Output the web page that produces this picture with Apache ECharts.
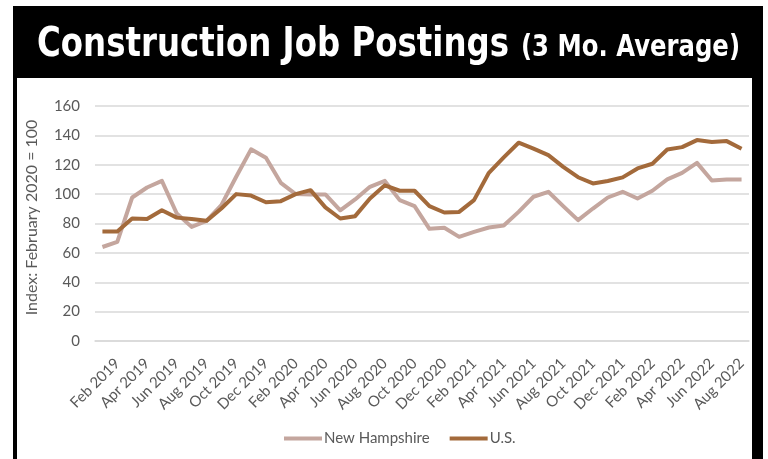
<!DOCTYPE html>
<html lang="en">
<head>
    <meta charset="UTF-8">
    <title>Construction Job Postings</title>
    <script src="https://cdn.jsdelivr.net/npm/echarts@6/dist/echarts.min.js"></script>
</head>
<style>
html,body{margin: 0;padding: 0;background-color: #fff}
#chartBox{width: 768px;height: 459px}
</style>
<body>
    <div id="chartBox"></div>
</body>
<script>
// 月份 (Jan 2019 - Aug 2022)
const months = [
    'Jan 2019','Feb 2019','Mar 2019','Apr 2019','May 2019','Jun 2019','Jul 2019','Aug 2019','Sep 2019','Oct 2019','Nov 2019','Dec 2019',
    'Jan 2020','Feb 2020','Mar 2020','Apr 2020','May 2020','Jun 2020','Jul 2020','Aug 2020','Sep 2020','Oct 2020','Nov 2020','Dec 2020',
    'Jan 2021','Feb 2021','Mar 2021','Apr 2021','May 2021','Jun 2021','Jul 2021','Aug 2021','Sep 2021','Oct 2021','Nov 2021','Dec 2021',
    'Jan 2022','Feb 2022','Mar 2022','Apr 2022','May 2022','Jun 2022','Jul 2022','Aug 2022'
];
const newHampshire = [
    64, 67.5, 97.7, 104.5, 109, 86.8, 77.7, 81.8, 92.5, 111.8, 130.5, 124.8,
    107.7, 100, 99.8, 99.8, 89, 96.4, 105, 109, 95.9, 91.8, 76.4, 77.1,
    70.9, 74.3, 77.3, 78.6, 87.9, 98.2, 101.6, 91.8, 82.3, 90.2, 97.7, 101.6,
    97, 102.3, 110, 114.5, 121.3, 109.3, 110, 110
];
const us = [
    74.5, 74.5, 83.4, 83, 89, 84, 83, 81.8, 90.2, 100, 99, 94.5,
    95.2, 100, 102.7, 91, 83.4, 85, 97, 106, 102.3, 102.3, 91.8, 87.5,
    87.9, 95.9, 114.5, 125, 135, 131, 126.6, 118.6, 111.5, 107.3, 108.9, 111.4,
    117.5, 120.7, 130.4, 132, 136.8, 135.5, 136.1, 130.9
];
const yTicks = [0, 20, 40, 60, 80, 100, 120, 140, 160];
const titleMain = 'Construction Job Postings';
const titleSub = '(3 Mo. Average)';

const textFont = 'Lato, "Open Sans", sans-serif';
const titleFont = '"DejaVu Sans", sans-serif';
const grayText = '#595959';

// 标题字体较宽, 按参考宽度横向压缩
function fitScale(text, font, targetWidth) {
    let ctx = document.createElement('canvas').getContext('2d');
    ctx.font = font;
    return targetWidth / ctx.measureText(text).width;
}

let chartObj = echarts.init(document.getElementById('chartBox'));
let option = {
    animation: false,
    backgroundColor: '#fff',
    graphic: [
        // 黑色外框和标题栏
        {type: 'rect', silent: true, z: -10, shape: {x: 13, y: 6, width: 750, height: 460}, style: {fill: '#000'}},
        {type: 'rect', silent: true, z: -9, shape: {x: 17, y: 78, width: 735, height: 390}, style: {fill: '#fff'}},
        {
            type: 'text', silent: true, x: 37, y: 45,
            scaleX: fitScale(titleMain, 'bold 41px ' + titleFont, 472),
            style: {text: titleMain, fill: '#fff', fontSize: 41, fontWeight: 'bold', fontFamily: titleFont, verticalAlign: 'middle'}
        },
        {
            type: 'text', silent: true, x: 521, y: 48,
            scaleX: fitScale(titleSub, 'bold 31px ' + titleFont, 219),
            style: {text: titleSub, fill: '#fff', fontSize: 31, fontWeight: 'bold', fontFamily: titleFont, verticalAlign: 'middle'}
        }
    ],
    grid: {
        left: 95,
        right: 19,
        top: 106,
        height: 235,
        containLabel: false
    },
    legend: {
        left: 279,
        top: 426,
        icon: 'rect',
        itemWidth: 38,
        itemHeight: 4,
        itemGap: 20,
        textStyle: {color: grayText, fontSize: 15, fontFamily: textFont, padding: [0, 0, 0, -3]},
        data: ['New Hampshire', 'U.S.']
    },
    xAxis: {
        type: 'category',
        boundaryGap: true,
        data: months,
        axisTick: {show: false},
        axisLine: {lineStyle: {color: '#d9d9d9', width: 1.5}},
        axisLabel: {
            interval: function (index) { return index % 2 === 1; },
            rotate: 45,
            margin: 20,
            color: grayText,
            fontSize: 15,
            fontFamily: textFont
        }
    },
    yAxis: {
        type: 'value',
        min: yTicks[0],
        max: yTicks[yTicks.length - 1],
        interval: 20,
        name: 'Index: February 2020 = 100',
        nameLocation: 'middle',
        nameRotate: 90,
        nameGap: 55,
        nameTextStyle: {color: grayText, fontSize: 16, fontFamily: textFont, padding: [0, 0, 0, 12]},
        axisLine: {show: false},
        axisTick: {show: false},
        axisLabel: {color: grayText, fontSize: 15, fontFamily: textFont, margin: 15},
        splitLine: {lineStyle: {color: '#d9d9d9', width: 1.5}}
    },
    series: [
        {
            type: 'line',
            name: 'New Hampshire',
            data: newHampshire,
            symbol: 'none',
            color: '#c4a69e',
            lineStyle: {width: 4, color: '#c4a69e', join: 'round'}
        },
        {
            type: 'line',
            name: 'U.S.',
            data: us,
            symbol: 'none',
            color: '#a36a3b',
            lineStyle: {width: 4, color: '#a36a3b', join: 'round'}
        }
    ]
};
chartObj.setOption(option, true);
</script>
</html>
